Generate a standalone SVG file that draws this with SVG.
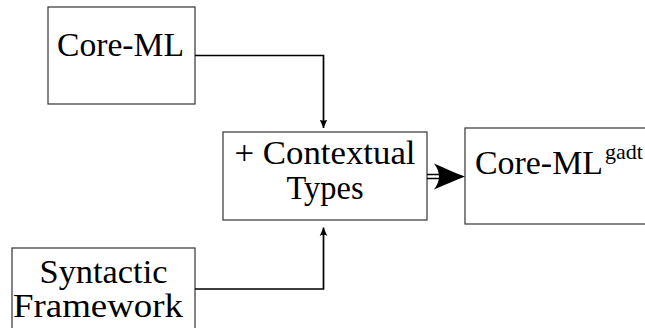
<svg xmlns="http://www.w3.org/2000/svg" width="645" height="328" viewBox="0 0 645 328">
<style>
.box{fill:#fff;stroke:#333;stroke-width:1.2}
.t{font-family:"Liberation Serif","Times New Roman",serif;font-size:34px;fill:#000}
.c{fill:none;stroke:#000;stroke-width:1.7}
</style>
<defs>
<marker id="ah" viewBox="0 0 10 10" refX="10" refY="5" markerWidth="5" markerHeight="5" orient="auto" markerUnits="strokeWidth">
<path d="M10,5 L0,0.5 Q3,5 0,9.5 Z" fill="#000"/>
</marker>
</defs>
<rect width="645" height="328" fill="#fff"/>
<g id="coreml">
<rect class="box" x="48" y="7" width="147" height="97"/>
<text class="t" x="57" y="56" textLength="127" lengthAdjust="spacingAndGlyphs">Core-ML</text>
</g>
<g id="contextual">
<rect class="box" x="223" y="132" width="204" height="88"/>
<text class="t" x="325" y="164" text-anchor="middle" textLength="181" lengthAdjust="spacingAndGlyphs">+ Contextual</text>
<text class="t" x="325" y="199" text-anchor="middle" textLength="77" lengthAdjust="spacingAndGlyphs">Types</text>
</g>
<g id="coremlgadt">
<rect class="box" x="465" y="128" width="200" height="96"/>
<text class="t" x="475" y="174" textLength="128" lengthAdjust="spacingAndGlyphs">Core-ML</text>
<text class="t" x="605" y="159" style="font-size:22px" textLength="38" lengthAdjust="spacingAndGlyphs">gadt</text>
</g>
<g id="syntactic">
<rect class="box" x="12" y="248" width="183" height="100"/>
<text class="t" x="103.5" y="283" text-anchor="middle" textLength="128" lengthAdjust="spacingAndGlyphs">Syntactic</text>
<text class="t" x="98" y="317" text-anchor="middle" textLength="170" lengthAdjust="spacingAndGlyphs">Framework</text>
</g>
<g id="connectors">
<path class="c" d="M195,55.5 H323.5 V128" marker-end="url(#ah)"/>
<path class="c" d="M195,289 H323.5 V227.5" marker-end="url(#ah)"/>
<path fill="none" stroke="#000" stroke-width="1.4" d="M427,174.5 H442 M427,178.5 H442"/>
<path fill="#000" d="M465,176.5 C455,173 445,168 434,163.5 Q444,176.5 434,189.5 C445,185 455,180 465,176.5 Z"/>
</g>
</svg>
